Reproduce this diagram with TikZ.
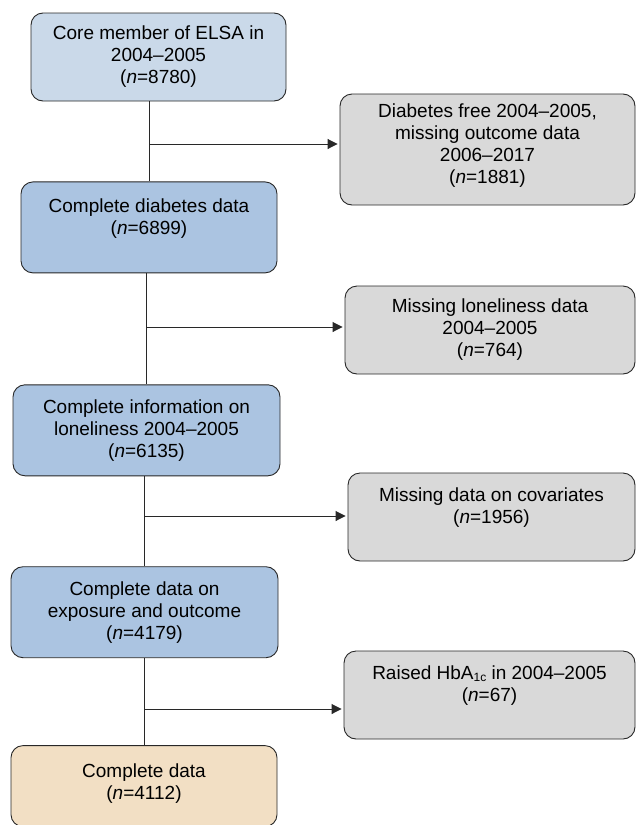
\documentclass[tikz,border=0pt]{standalone}
\usepackage{fontspec}
\setmainfont{Liberation Sans}
\usetikzlibrary{arrows.meta, positioning}
\definecolor{colstart}{RGB}{202,217,233}
\definecolor{colstep}{RGB}{171,196,225}
\definecolor{colexcl}{RGB}{217,217,217}
\definecolor{colfinal}{RGB}{242,223,196}
\definecolor{coldark}{RGB}{40,40,40}
\newcommand{\smallsub}[1]{\raisebox{-1.5pt}{\fontsize{12}{12}\selectfont #1}}

\begin{document}
\begin{tikzpicture}[x=1pt, y=-1pt,
  box/.style={rectangle, rounded corners=12pt, draw=coldark, line width=0.9pt,
              align=center, inner sep=0pt, text=black,
              font=\fontsize{19}{22}\selectfont},
  keep/.style={box, fill=colstep, minimum width=267pt, minimum height=91pt},
  excl/.style={box, fill=colexcl, minimum width=290pt, minimum height=88pt},
  link/.style={coldark, line width=0.9pt},
  arr/.style={link, -{Triangle[length=10pt, width=10pt]}, shorten >=2pt}
]
\useasboundingbox (0,0) rectangle (636,825);

% Main flow, top to bottom
\node[box, fill=colstart, minimum width=255pt, minimum height=88pt] (n1) at (158.5,57)
    {Core member of ELSA in\\2004--2005\\(\textit{n}=8780)};
\node[keep, minimum width=256pt, below=80pt of n1, xshift=-9.5pt] (n2)
    {Complete diabetes data\\(\textit{n}=6899)\\\mbox{}};
\node[keep, below=111pt of n2, xshift=-2.5pt] (n3)
    {Complete information on\\loneliness 2004--2005\\(\textit{n}=6135)};
\node[keep, below=90pt of n3, xshift=-2pt] (n4)
    {Complete data on\\exposure and outcome\\(\textit{n}=4179)};
\node[keep, fill=colfinal, minimum width=266pt, minimum height=81pt,
      below=87pt of n4, xshift=-0.5pt] (n5)
    {Complete data\\(\textit{n}=4112)\\[-13pt]\mbox{}};

% Exclusions
\node[excl, minimum width=295pt, minimum height=111pt] (e1) at (487.5,149.5)
    {Diabetes free 2004--2005,\\missing outcome data\\2006--2017\\(\textit{n}=1881)\\[-10pt]\mbox{}};
\node[excl] (e2) at (490,330)
    {Missing loneliness data\\2004--2005\\(\textit{n}=764)};
\node[excl, minimum width=287pt] (e3) at (491.5,517)
    {Missing data on covariates\\(\textit{n}=1956)\\\mbox{}};
\node[excl, minimum width=291pt] (e4) at (489.5,695)
    {Raised HbA\smallsub{1c} in 2004--2005\\(\textit{n}=67)\\\mbox{}};

% Branch points
\coordinate (j1) at (149,144);
\coordinate (j2) at (146,327);
\coordinate (j3) at (145,516);
\coordinate (j4) at (144,709);

% Trunk
\draw[link] (n1.south -| n2.north) -- (n2.north);
\draw[link] (n2.south -| n3.north) -- (n3.north);
\draw[link] (n3.south -| n4.north) -- (n4.north);
\draw[link] (n4.south -| n5.north) -- (n5.north);

% Side arrows
\draw[arr] (j1) -- (j1 -| e1.west);
\draw[arr] (j2) -- (j2 -| e2.west);
\draw[arr] (j3) -- (j3 -| e3.west);
\draw[arr] (j4) -- (j4 -| e4.west);
\end{tikzpicture}
\end{document}
